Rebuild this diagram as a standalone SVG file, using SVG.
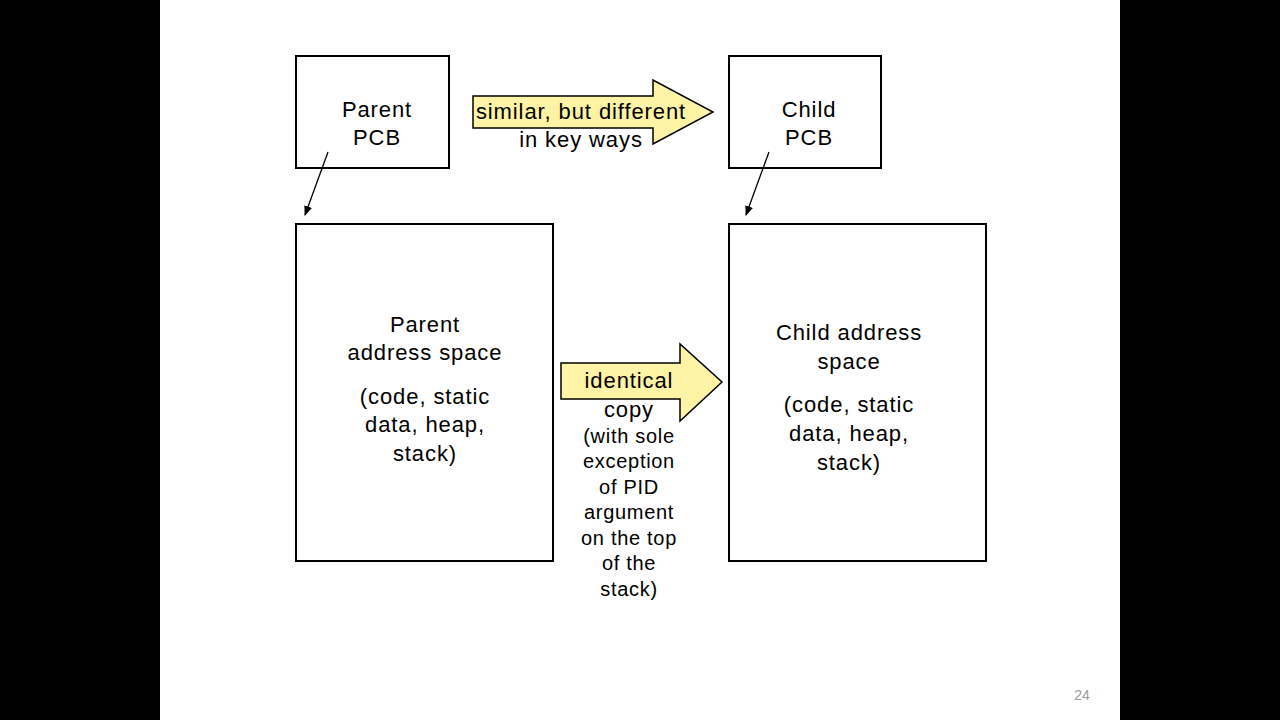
<svg xmlns="http://www.w3.org/2000/svg" width="1280" height="720" viewBox="0 0 1280 720">
<defs>
<style>
.box{fill:#fff;stroke:#000;stroke-width:2}
.t{font-family:"Liberation Sans",Arial,sans-serif;font-size:22px;letter-spacing:0.9px;fill:#000;text-anchor:middle}
.s{font-family:"Liberation Sans",Arial,sans-serif;font-size:20px;letter-spacing:0.7px;fill:#000;text-anchor:middle}
.big{fill:#FFF3A6;stroke:#000;stroke-width:1.5}
.ln{stroke:#000;stroke-width:1.3;fill:none}
</style>
<marker id="ah" viewBox="0 0 10 10" refX="9" refY="5" markerWidth="10" markerHeight="10" markerUnits="userSpaceOnUse" orient="auto">
<path d="M0,1 L10,5 L0,9 Z" fill="#000"/>
</marker>
</defs>
<rect x="0" y="0" width="1280" height="720" fill="#000"/>
<rect x="160" y="0" width="960" height="720" fill="#fff"/>
<g id="parent-pcb">
<rect class="box" x="296" y="56" width="153" height="112"/>
<text class="t" x="377" y="117">Parent</text>
<text class="t" x="377" y="145">PCB</text>
</g>
<g id="child-pcb">
<rect class="box" x="729" y="56" width="152" height="112"/>
<text class="t" x="809" y="117">Child</text>
<text class="t" x="809" y="145">PCB</text>
</g>
<g id="parent-as">
<rect class="box" x="296" y="224" width="257" height="337"/>
<text class="t" x="425" y="332">Parent</text>
<text class="t" x="425" y="360">address space</text>
<text class="t" x="425" y="404">(code, static</text>
<text class="t" x="425" y="432">data, heap,</text>
<text class="t" x="425" y="461">stack)</text>
</g>
<g id="child-as">
<rect class="box" x="729" y="224" width="257" height="337"/>
<text class="t" x="849" y="340">Child address</text>
<text class="t" x="849" y="369">space</text>
<text class="t" x="849" y="412">(code, static</text>
<text class="t" x="849" y="441">data, heap,</text>
<text class="t" x="849" y="470">stack)</text>
</g>
<g id="connectors">
<line class="ln" x1="328" y1="152" x2="305" y2="215" marker-end="url(#ah)"/>
<line class="ln" x1="769" y1="152" x2="746" y2="215" marker-end="url(#ah)"/>
</g>
<g id="similar-arrow">
<path class="big" d="M473,96 L653,96 L653,80 L713,112 L653,144 L653,128 L473,128 Z"/>
<text class="t" x="581" y="119">similar, but different</text>
<text class="t" x="581" y="147">in key ways</text>
</g>
<g id="identical-arrow">
<path class="big" d="M561,363 L680,363 L680,344 L722,382 L680,421 L680,399 L561,399 Z"/>
<text class="t" x="629" y="388">identical</text>
<text class="t" x="629" y="417">copy</text>
<text class="s" x="629" y="443">(with sole</text>
<text class="s" x="629" y="468">exception</text>
<text class="s" x="629" y="494">of PID</text>
<text class="s" x="629" y="519">argument</text>
<text class="s" x="629" y="545">on the top</text>
<text class="s" x="629" y="570">of the</text>
<text class="s" x="629" y="596">stack)</text>
</g>
<text x="1082" y="700" font-family="Liberation Sans,Arial,sans-serif" font-size="14" fill="#999" text-anchor="middle">24</text>
</svg>
